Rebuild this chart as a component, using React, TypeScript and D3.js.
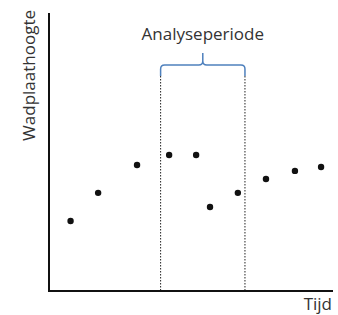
import React from "react";
import * as d3 from "d3";

// tijd (x) and wadplaathoogte (y)
const tijd = [0.76, 1.73, 3.1, 4.23, 5.18, 5.67, 6.65, 7.64, 8.66, 9.58];
const hoogte = [2.52, 3.53, 4.53, 4.89, 4.89, 3.02, 3.53, 4.03, 4.32, 4.46];
const periode = [3.93, 6.9];
const xLabel = "Tijd";
const yLabel = "Wadplaathoogte";
const periodeLabel = "Analyseperiode";

const W = 338;
const H = 315;
const font = "'Open Sans', sans-serif";

export default function App() {
  const x = d3.scaleLinear().domain([0, 10]).range([49, 333]);
  const y = d3.scaleLinear().domain([0, 10]).range([291, 13]);

  const x0 = x(periode[0]);
  const x1 = x(periode[1]);
  const xm = (x0 + x1) / 2;
  const by = 65;
  const r = 4;
  const bracket = d3.path();
  bracket.moveTo(x0, 76);
  bracket.lineTo(x0, by + r);
  bracket.quadraticCurveTo(x0, by, x0 + r, by);
  bracket.lineTo(xm - r, by);
  bracket.quadraticCurveTo(xm, by, xm, by - r);
  bracket.lineTo(xm, 53);
  bracket.moveTo(xm, by - r);
  bracket.quadraticCurveTo(xm, by, xm + r, by);
  bracket.lineTo(x1 - r, by);
  bracket.quadraticCurveTo(x1, by, x1, by + r);
  bracket.lineTo(x1, 76);

  return (
    <div style={{ position: "fixed", left: 0, top: 0 }}>
      <svg width={W} height={H} style={{ display: "block", background: "#fff" }}>
        {periode.map((p, i) => (
          <line key={i} x1={x(p)} x2={x(p)} y1={76} y2={y(0)}
            stroke="#222" strokeWidth={1} strokeDasharray="1.5,1.5" />
        ))}
        <path d={bracket.toString()} fill="none" stroke="#4f81bd" strokeWidth={1.5} />
        <text x={xm} y={40} textAnchor="middle" fontFamily={font} fontSize={17} fill="#333">
          {periodeLabel}
        </text>
        <path d={`M${x(0)},${y(10)}V${y(0)}H${x(10)}`} fill="none" stroke="#111" strokeWidth={2} />
        {tijd.map((t, i) => (
          <circle key={i} cx={x(t)} cy={y(hoogte[i])} r={3.2} fill="#111" />
        ))}
        <text x={332} y={310} textAnchor="end" fontFamily={font} fontSize={17} fill="#333">
          {xLabel}
        </text>
        <text transform={`translate(35,10) rotate(-90)`} textAnchor="end" fontFamily={font} fontSize={17} fill="#333">
          {yLabel}
        </text>
      </svg>
    </div>
  );
}
